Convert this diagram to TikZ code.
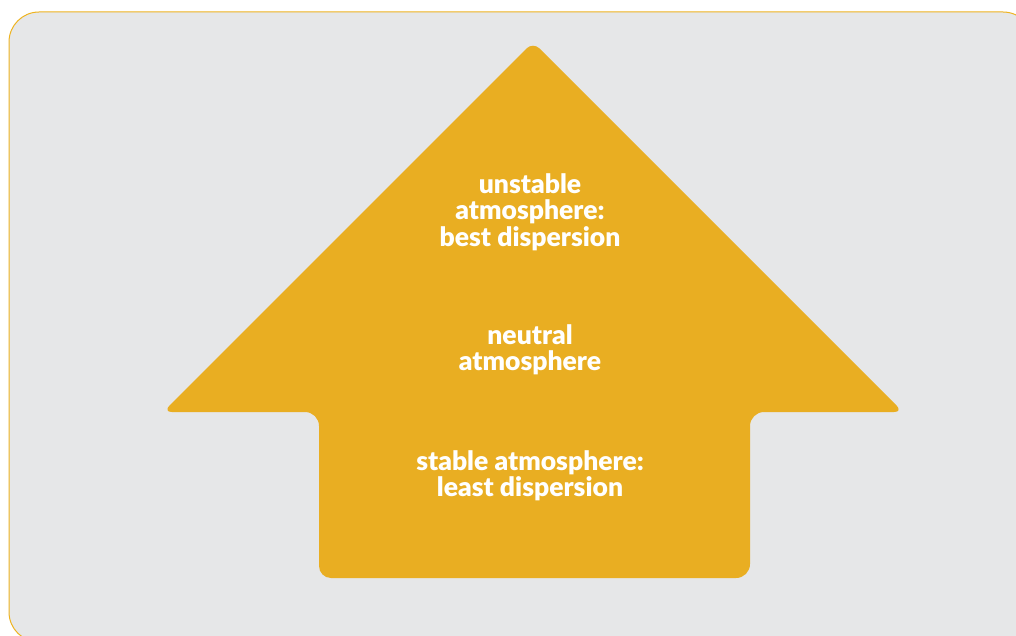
\documentclass[tikz,border=0pt]{standalone}
\usepackage{fontspec}
\setsansfont{Lato}[BoldFont={Lato Black}]
\usepackage{tikz}
\usetikzlibrary{positioning}
\usepackage{xcolor}
\definecolor{panelgrey}{HTML}{E6E7E8}
\definecolor{gold}{HTML}{E9AE22}
\definecolor{rim}{HTML}{EEB31F}

\begin{document}
\begin{tikzpicture}[
  x=1pt, y=-1pt,
  label/.style={text=white, font=\sffamily\bfseries\fontsize{26.5}{26.5}\selectfont, align=center, inner sep=0pt},
  panel/.style={fill=panelgrey, draw=rim, line width=1pt, rounded corners=30pt}
]
\useasboundingbox (0,0) rectangle (1016,636);
\path[panel] (9,12) rectangle (1033,642);

% the arrow
\fill[gold] [rounded corners=9pt] (533,42) -- (903,412)
  [rounded corners=14pt] -- (750,412) -- (750,578)
  [rounded corners=12pt] -- (319,578) [rounded corners=14pt] -- (319,412)
  [rounded corners=9pt] -- (163,412) -- cycle;

\node[label] (unstable) at (530,212) {unstable\\atmosphere:\\best dispersion};
\node[label] (neutral) at (530,350) {neutral\\atmosphere};
\node[label] (stable) at (530,476) {stable atmosphere:\\least dispersion};
\end{tikzpicture}
\end{document}
